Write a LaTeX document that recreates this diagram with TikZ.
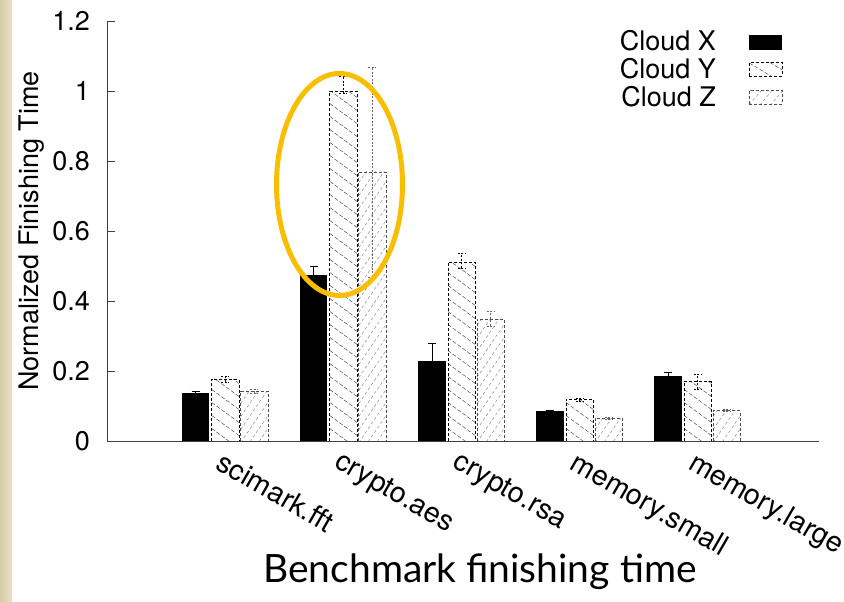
\documentclass[tikz,border=0pt]{standalone}
\usepackage{fontspec}
\setmainfont{TeX Gyre Heros}
\newfontfamily\titlefont{Lato}

\definecolor{slidebeige}{RGB}{216,203,168}
\definecolor{slidebeigelight}{RGB}{232,224,200}
\definecolor{markgold}{RGB}{250,190,0}

\tikzset{
  axisline/.style={draw=black!75, line width=0.9pt},
  solidbar/.style={fill=black},
  ybarframe/.style={draw=black, dash pattern=on 3pt off 2pt, line width=0.8pt},
  zbarframe/.style={draw=black!70, dash pattern=on 3pt off 2pt, line width=0.8pt},
  yhatch/.style={draw=black!70, dash pattern=on 4pt off 2pt, line width=0.5pt},
  zhatch/.style={draw=black!45, dash pattern=on 3pt off 2.5pt, line width=0.5pt},
  errx/.style={draw=black, line width=0.6pt},
  erry/.style={draw=black, dash pattern=on 2pt off 1.5pt, line width=0.6pt},
  errz/.style={draw=black!60, dash pattern=on 2pt off 1.5pt, line width=0.6pt},
  plotlabel/.style={font=\fontsize{27}{31}\selectfont, inner sep=0pt},
  catlabel/.style={font=\fontsize{28.5}{32}\selectfont, inner sep=0pt},
}

% hatching of a "Cloud Y" box: left x, width, bottom, top; lines falling to the right
\newcommand\hatchY[4]{%
  \begin{scope}
    \clip (#1,#3) rectangle ({#1+#2},#4);
    \pgfmathsetmacro\hyStart{#3-13}
    \pgfmathsetmacro\hyNext{#3}
    \pgfmathsetmacro\hyEnd{#4+21}
    \foreach \c in {\hyStart,\hyNext,...,\hyEnd}
      \draw[yhatch] (#1,\c) -- ({#1+#2},{\c-20});
  \end{scope}}

% hatching of a "Cloud Z" box: left x, width, bottom, top; steep lines rising to the right
\newcommand\hatchZ[4]{%
  \begin{scope}
    \clip (#1,#3) rectangle ({#1+#2},#4);
    \pgfmathsetmacro\hzStart{#3-40}
    \pgfmathsetmacro\hzNext{#3-27}
    \pgfmathsetmacro\hzEnd{#4+1}
    \foreach \c in {\hzStart,\hzNext,...,\hzEnd}
      \draw[zhatch] (#1,\c) -- ({#1+#2},{\c+40});
  \end{scope}}

% error bar: style, centre x, low value, high value
\newcommand\errbar[4]{%
  \draw[#1] (#2,{160.5+350*#3}) -- (#2,{160.5+350*#4});
  \draw[#1] ({#2-4},{160.5+350*#3}) -- ({#2+4},{160.5+350*#3});
  \draw[#1] ({#2-4},{160.5+350*#4}) -- ({#2+4},{160.5+350*#4});}

\begin{document}
\begin{tikzpicture}[x=1pt,y=1pt]
  \useasboundingbox (0,0) rectangle (844,602);
  \fill[white] (0,0) rectangle (844,602);

  % slide margin
  \shade[left color=slidebeige, right color=slidebeigelight] (0,0) rectangle (12,602);
  \fill[white!92!slidebeige] (12,0) rectangle (14,602);

  % bars, one group per benchmark
  \foreach \g/\vx/\xl/\xh/\vy/\yl/\yh/\vz/\zl/\zh in {
      0/0.138/0.135/0.142/0.178/0.170/0.185/0.143/0.138/0.150,
      1/0.475/0.450/0.500/1.000/0.995/1.042/0.770/0.470/1.069,
      2/0.230/0.180/0.280/0.511/0.496/0.538/0.349/0.330/0.372,
      3/0.086/0.083/0.088/0.120/0.115/0.124/0.066/0.064/0.068,
      4/0.187/0.178/0.197/0.171/0.150/0.192/0.088/0.085/0.092}{
    \pgfmathsetmacro\xa{182+118.1*\g}
    \pgfmathsetmacro\xb{\xa+29.7}
    \pgfmathsetmacro\xc{\xa+58.7}
    \pgfmathsetmacro\tx{160.5+350*\vx}
    \pgfmathsetmacro\ty{160.5+350*\vy}
    \pgfmathsetmacro\tz{160.5+350*\vz}
    % Cloud X
    \fill[solidbar] (\xa,160.5) rectangle ({\xa+27.3},\tx);
    \errbar{errx}{\xa+13.65}{\xl}{\xh}
    % Cloud Y
    \hatchY{\xb}{27.3}{160.5}{\ty}
    \draw[ybarframe] (\xb,160.5) rectangle ({\xb+27.3},\ty);
    \errbar{erry}{\xb+13.65}{\yl}{\yh}
    % Cloud Z
    \hatchZ{\xc}{27.3}{160.5}{\tz}
    \draw[zbarframe] (\xc,160.5) rectangle ({\xc+27.3},\tz);
    \errbar{errz}{\xc+13.65}{\zl}{\zh}
  }

  % axes and ticks
  \draw[axisline] (107,580.5) -- (107,160.5) -- (819,160.5);
  \foreach \v/\lab [count=\i] in {0/0,0.2/0.2,0.4/0.4,0.6/0.6,0.8/0.8,1/1,1.2/1.2}{
    \draw[axisline] (107,{160.5+350*\v}) -- (115,{160.5+350*\v});
    \node[plotlabel, anchor=base east] (ytick\i) at (90,{160.5+350*\v-9.5}) {\lab};
  }
  \node[plotlabel, rotate=90, anchor=base] (ylab) at (38.5,371) {Normalized Finishing Time};

  % benchmark names
  \foreach \name [count=\i] in {scimark.fft,crypto.aes,crypto.rsa,memory.small,memory.large}{
    \node[catlabel, rotate=-30, anchor=north west] (cat\i) at ({182+118.1*(\i-1)+43},152) {\name};
  }

  % legend
  \node[plotlabel, anchor=base east] (lgx) at (716,551.3) {Cloud X};
  \node[plotlabel, anchor=base east] (lgy) at (716,523.7) {Cloud Y};
  \node[plotlabel, anchor=base east] (lgz) at (716,495.3) {Cloud Z};
  \fill[solidbar] (749.3,552) rectangle (782.3,567);
  \hatchY{749.3}{33}{526}{539.3}
  \draw[ybarframe] (749.3,526) rectangle (782.3,539.3);
  \hatchZ{749.3}{33}{498}{511.3}
  \draw[zbarframe] (749.3,498) rectangle (782.3,511.3);

  % highlight round the crypto.aes group
  \draw[markgold, line width=5pt] (339.5,417.5) ellipse [x radius=63, y radius=111];

  % caption
  \node[font=\titlefont\fontsize{39}{45}\selectfont, anchor=base, inner sep=0pt] (title) at (480,19) {Benchmark finishing time};
\end{tikzpicture}
\end{document}
